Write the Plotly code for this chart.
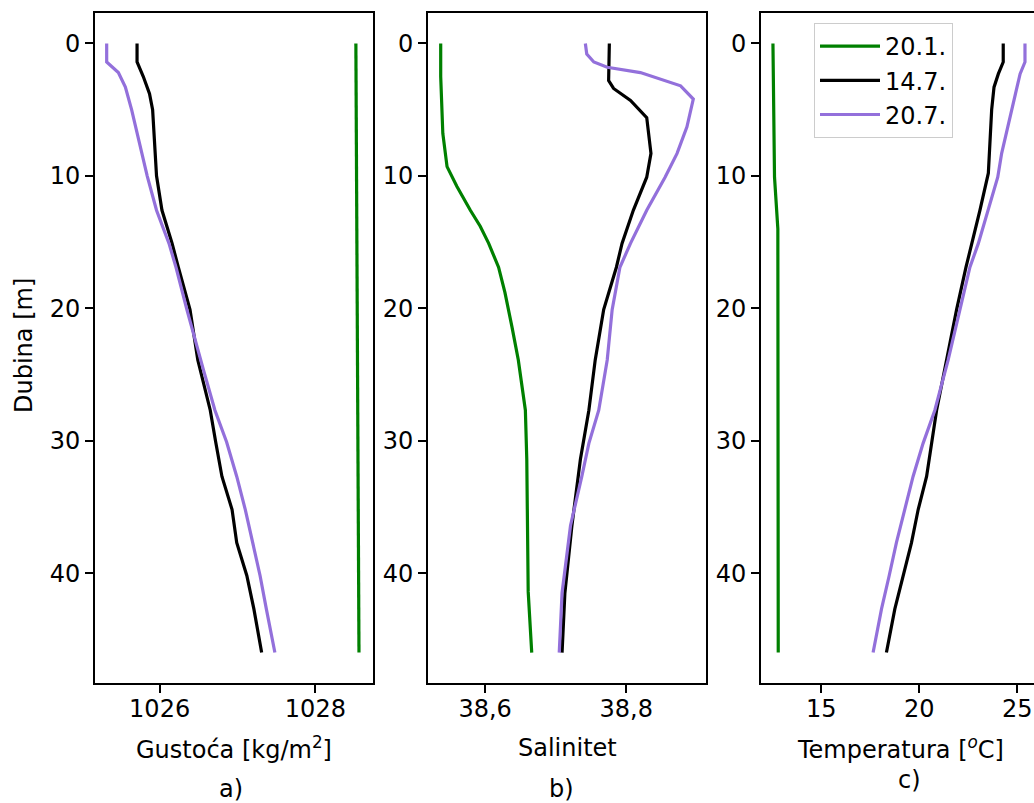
import plotly.graph_objects as go

# ---------------- data ----------------
series_names = ["20.1.", "14.7.", "20.7."]
series_colors = ["green", "black", "mediumpurple"]

# a) density [kg/m^3]
dens_green_depth = [0, 46]
dens_green = [1028.52, 1028.56]
dens_black_depth = [0, 1.4, 2.5, 3.8, 5.0, 7.5, 10, 12.6, 15.1, 16.9, 20.1, 23.9, 27.7, 30.1, 32.7, 35.2, 37.7, 40.2, 42.7, 46]
dens_black = [1025.71, 1025.71, 1025.79, 1025.87, 1025.91, 1025.94, 1025.96, 1026.03, 1026.16, 1026.24,
              1026.39, 1026.49, 1026.65, 1026.72, 1026.80, 1026.93, 1026.99, 1027.12, 1027.21, 1027.31]
dens_purple_depth = [0, 1.4, 2.2, 3.3, 5.0, 7.5, 10, 12.6, 15.1, 16.9, 20.1, 24.6, 27.7, 30.1, 32.7, 35.2, 37.7, 40.2, 42.7, 46]
dens_purple = [1025.32, 1025.32, 1025.47, 1025.56, 1025.64, 1025.74, 1025.84, 1025.96, 1026.12, 1026.21,
               1026.35, 1026.56, 1026.71, 1026.86, 1026.99, 1027.10, 1027.20, 1027.29, 1027.37, 1027.48]

# b) salinity
sal_green_depth = [0, 2.5, 6.8, 9.3, 10.8, 12.6, 13.8, 15.1, 16.9, 18.8, 21.4, 23.9, 27.7, 31.4, 36.4, 41.4, 46]
sal_green = [38.537, 38.537, 38.540, 38.546, 38.560, 38.579, 38.593, 38.605, 38.619, 38.628,
             38.638, 38.647, 38.657, 38.659, 38.660, 38.661, 38.666]
sal_black_depth = [0, 2.8, 3.4, 4.3, 5.6, 8.3, 10.1, 12.6, 15.1, 16.9, 20.1, 23.9, 27.7, 31.4, 36.4, 41.5, 46]
sal_black = [38.776, 38.775, 38.782, 38.806, 38.829, 38.835, 38.829, 38.810, 38.794, 38.786,
             38.768, 38.756, 38.747, 38.735, 38.723, 38.713, 38.709]
sal_purple_depth = [0, 0.8, 1.4, 1.8, 2.2, 3.2, 4.2, 6.3, 8.3, 10.1, 12.6, 15.1, 16.9, 20.1, 23.9, 27.7, 30.2, 32.7, 36.4, 41.5, 46]
sal_purple = [38.742, 38.744, 38.754, 38.773, 38.820, 38.877, 38.895, 38.886, 38.872, 38.855, 38.829,
              38.806, 38.791, 38.780, 38.773, 38.761, 38.747, 38.737, 38.721, 38.709, 38.705]

# c) temperature [°C]
temp_green_depth = [0, 10.1, 14, 46]
temp_green = [12.53, 12.61, 12.78, 12.80]
temp_black_depth = [0, 1.4, 2.3, 3.3, 5, 7.5, 9.8, 12.6, 15.1, 16.9, 20.1, 23.9, 27.7, 32.7, 35.2, 37.7, 40.2, 42.7, 46]
temp_black = [24.28, 24.28, 24.03, 23.81, 23.69, 23.60, 23.52, 23.09, 22.67, 22.38,
              21.90, 21.39, 20.88, 20.37, 19.94, 19.60, 19.17, 18.75, 18.32]
temp_purple_depth = [0, 1.4, 2.3, 5, 8.3, 10.1, 12.6, 15.1, 16.9, 20.1, 23.9, 27.7, 30.2, 32.7, 35.2, 37.7, 40.2, 42.7, 46]
temp_purple = [25.39, 25.39, 25.14, 24.71, 24.20, 24.00, 23.52, 23.01, 22.58, 22.07,
               21.47, 20.79, 20.19, 19.68, 19.26, 18.83, 18.46, 18.07, 17.64]

y_ticks = [0, 10, 20, 30, 40]
dens_ticks = [1026, 1028]
dens_ticktext = ["1026", "1028"]
sal_ticks = [38.6, 38.8]
sal_ticktext = ["38,6", "38,8"]
temp_ticks = [15, 20, 25]
temp_ticktext = ["15", "20", "25"]

x_titles = ["Gustoća [kg/m<sup>2</sup>]", "Salinitet", "Temperatura [<sup><i>o</i></sup>C]"]
panel_labels = ["a)", "b)", "c)"]

# ---------------- figure ----------------
W, H = 1034, 803
FONT = "DejaVu Sans"
FS = 24
LW = 3.2

fig = go.Figure()

panels = [
    ("x", "y", [(dens_green_depth, dens_green), (dens_black_depth, dens_black), (dens_purple_depth, dens_purple)]),
    ("x2", "y2", [(sal_green_depth, sal_green), (sal_black_depth, sal_black), (sal_purple_depth, sal_purple)]),
    ("x3", "y3", [(temp_green_depth, temp_green), (temp_black_depth, temp_black), (temp_purple_depth, temp_purple)]),
]
for pi, (xa, ya, data) in enumerate(panels):
    for si, (d, v) in enumerate(data):
        fig.add_trace(go.Scatter(
            x=v, y=d, mode="lines", xaxis=xa, yaxis=ya,
            line=dict(color=series_colors[si], width=LW),
            name=series_names[si], legendgroup=series_names[si],
            showlegend=(pi == 2),
        ))

def px_x(p):
    return p / W

def px_y(p):
    return (H - p) / H

ydom = [px_y(683), px_y(13)]
xdoms = [[px_x(95), px_x(373)], [px_x(428), px_x(706)], [px_x(761), 1.0]]
xranges = [[1025.17, 1028.74], [38.519, 38.913], [11.92, 25.85]]
tickvals = [dens_ticks, sal_ticks, temp_ticks]
ticktexts = [dens_ticktext, sal_ticktext, temp_ticktext]

axis_common = dict(
    showline=True, linecolor="black", linewidth=2,
    ticks="outside", ticklen=8, tickwidth=2, tickcolor="black",
    showgrid=False, zeroline=False,
    tickfont=dict(family=FONT, size=FS, color="black"),
)

layout = dict(
    width=W, height=H,
    margin=dict(l=0, r=0, t=0, b=0),
    paper_bgcolor="white", plot_bgcolor="white",
    font=dict(family=FONT, size=FS, color="black"),
    legend=dict(
        x=px_x(814), y=px_y(23), xanchor="left", yanchor="top",
        bgcolor="white", bordercolor="#cccccc", borderwidth=1,
        font=dict(family=FONT, size=FS, color="black"),
        tracegroupgap=0, itemwidth=60,
    ),
)
for i in range(3):
    sx = "" if i == 0 else str(i + 1)
    layout["xaxis" + sx] = dict(
        axis_common, domain=xdoms[i], range=xranges[i], anchor="y" + sx,
        tickvals=tickvals[i], ticktext=ticktexts[i], mirror=True,
        ticklabelstandoff=-5,
    )
    layout["yaxis" + sx] = dict(
        axis_common, domain=ydom, range=[48.3, -2.3], anchor="x" + sx,
        tickvals=y_ticks, mirror=(i < 2),
    )
fig.update_layout(**layout)

title_x = [234, 567, 900]
label_x = [231, 561, 909]
label_y = [789, 789, 780]
for i in range(3):
    fig.add_annotation(text=x_titles[i], xref="paper", yref="paper",
                       x=px_x(title_x[i]), y=px_y(748), xanchor="center", yanchor="middle",
                       showarrow=False, font=dict(family=FONT, size=FS, color="black"))
    fig.add_annotation(text=panel_labels[i], xref="paper", yref="paper",
                       x=px_x(label_x[i]), y=px_y(label_y[i]), xanchor="center", yanchor="middle",
                       showarrow=False, font=dict(family=FONT, size=FS, color="black"))

fig.add_annotation(text="Dubina [m]", xref="paper", yref="paper",
                   x=px_x(24), y=px_y(346), xanchor="center", yanchor="middle",
                   textangle=-90, showarrow=False,
                   font=dict(family=FONT, size=FS, color="black"))

fig.write_html(
    "out.html",
    config={"displayModeBar": False},
    post_script="document.body.style.margin='0';document.body.style.overflow='hidden';",
)
